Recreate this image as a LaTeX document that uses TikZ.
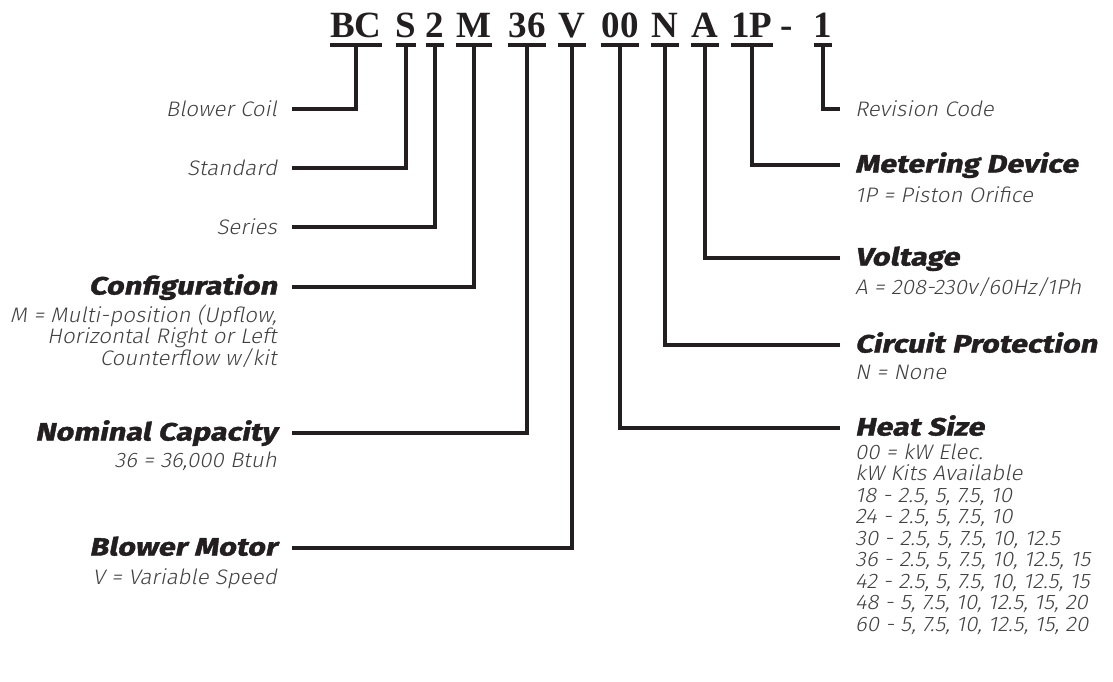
\documentclass[tikz,border=0pt]{standalone}
\usepackage{fontspec}
\newfontfamily\codefont{Liberation Serif}
\newfontfamily\lblfont{Fira Sans Light}[FakeSlant=0.2,FakeStretch=1.06]
\newfontfamily\ttlfont{Fira Sans}[FakeSlant=0.2,FakeStretch=1.22,BoldFeatures={FakeBold=1.6}]
\definecolor{ink}{HTML}{231F20}
\definecolor{greytext}{HTML}{404040}
\tikzset{
  code/.style={font=\codefont\bfseries\fontsize{37}{37}\selectfont,
    text=ink, inner sep=0pt, anchor=base},
  wire/.style={draw=ink, line width=4pt},
  lbl/.style={font=\lblfont\fontsize{21}{21.5}\selectfont, text=greytext,
    inner sep=0pt, text height=14pt, text depth=0pt, outer xsep=15pt},
  ttl/.style={font=\ttlfont\bfseries\fontsize{25}{25}\selectfont, text=ink,
    inner sep=0pt, text height=15pt, text depth=0pt, outer xsep=15pt},
  sub/.style={font=\lblfont\fontsize{21}{21.5}\selectfont, text=greytext,
    inner sep=0pt},
}
\begin{document}
\begin{tikzpicture}[x=1pt,y=-1pt]
    \useasboundingbox (0,0) rectangle (1113,681);
    % model number
    \node[code] (bc) at (356,37) {BC};
    \node[code] (s) at (406,37) {S};
    \node[code] (two) at (435,37) {2};
    \node[code] (m) at (474,37) {M};
    \node[code] (cap) at (527,37) {36};
    \node[code] (v) at (572,37) {V};
    \node[code] (heat) at (620,37) {00};
    \node[code] (n) at (665,37) {N};
    \node[code] (a) at (705,37) {A};
    \node[code] (dev) at (752,37) {1P};
    \node[code] (dash) at (787,37) {-};
    \node[code] (rev) at (823,37) {1};
    \foreach \c in {bc,s,two,m,cap,v,heat,n,a,dev,rev}
      \draw[wire] ([yshift=-8pt]\c.base west) -- ([yshift=-8pt]\c.base east);
    % left side
    \node[lbl,anchor=east] (coil) at (292,109) {Blower Coil};
    \node[lbl,anchor=east] (std) at (292,168) {Standard};
    \node[lbl,anchor=east] (ser) at (292,227) {Series};
    \node[ttl,anchor=east] (cfg) at (292,287) {Configuration};
    \node[sub,anchor=base east,align=right] (cfg-d) at (277,365)
      {M = Multi-position (Upflow,\\Horizontal Right or Left\\Counterflow w/kit};
    \node[ttl,anchor=east] (nom) at (292,433) {Nominal Capacity};
    \node[sub,anchor=base east] (nom-d) at (277,467) {36 = 36,000 Btuh};
    \node[ttl,anchor=east] (mot) at (292,548) {Blower Motor};
    \node[sub,anchor=base east] (mot-d) at (277,584) {V = Variable Speed};
    % right side
    \node[lbl,anchor=west] (rcode) at (840,109) {Revision Code};
    \node[ttl,anchor=west] (met) at (840,165) {Metering Device};
    \node[sub,anchor=base west] (met-d) at (855,202) {1P = Piston Orifice};
    \node[ttl,anchor=west] (volt) at (840,258) {Voltage};
    \node[sub,anchor=base west] (volt-d) at (855,294) {A = 208-230v/60Hz/1Ph};
    \node[ttl,anchor=west] (circ) at (840,345) {Circuit Protection};
    \node[sub,anchor=base west] (circ-d) at (855,379) {N = None};
    \node[ttl,anchor=west] (hsize) at (840,428) {Heat Size};
    \node[sub,anchor=base west,align=left] (hsize-d) at (855,631)
      {00 = kW Elec.\\kW Kits Available\\18 - 2.5, 5, 7.5, 10\\24 - 2.5, 5, 7.5, 10\\
       30 - 2.5, 5, 7.5, 10, 12.5\\36 - 2.5, 5, 7.5, 10, 12.5, 15\\
       42 - 2.5, 5, 7.5, 10, 12.5, 15\\48 - 5, 7.5, 10, 12.5, 15, 20\\
       60 - 5, 7.5, 10, 12.5, 15, 20};
    % connectors
    \draw[wire] ([yshift=-8pt]bc.base) |- (coil);
    \draw[wire] ([yshift=-8pt]s.base) |- (std);
    \draw[wire] ([yshift=-8pt]two.base) |- (ser);
    \draw[wire] ([yshift=-8pt]m.base) |- (cfg);
    \draw[wire] ([yshift=-8pt]cap.base) |- (nom);
    \draw[wire] ([yshift=-8pt]v.base) |- (mot);
    \draw[wire] ([yshift=-8pt]heat.base) |- (hsize);
    \draw[wire] ([yshift=-8pt]n.base) |- (circ);
    \draw[wire] ([yshift=-8pt]a.base) |- (volt);
    \draw[wire] ([yshift=-8pt]dev.base) |- (met);
    \draw[wire] ([yshift=-8pt]rev.base) |- (rcode);
\end{tikzpicture}
\end{document}
